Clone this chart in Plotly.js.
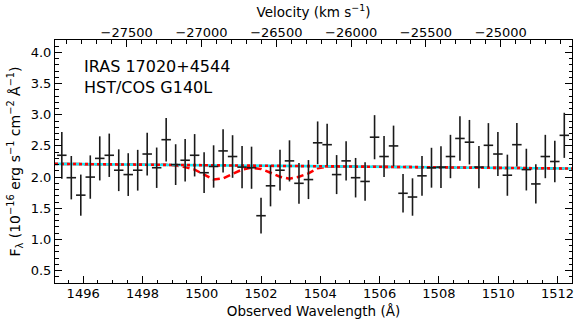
<!DOCTYPE html>
<html>
<head>
<meta charset="utf-8">
<script src="https://cdn.plot.ly/plotly-3.0.1.min.js"></script>
<style>
  html, body { margin: 0; padding: 0; background: #fff; }
  #plot { width: 580px; height: 330px; }
</style>
</head>
<body>
<div id="plot"></div>
<script>
// observed wavelengths of the binned spectrum (Angstrom)
var wave = [1495.28, 1495.60, 1495.92, 1496.24, 1496.56, 1496.88, 1497.20, 1497.52, 1497.84, 1498.16,
  1498.48, 1498.80, 1499.12, 1499.44, 1499.76, 1500.08, 1500.40, 1500.72, 1501.04, 1501.36,
  1501.68, 1502.00, 1502.32, 1502.64, 1502.96, 1503.28, 1503.60, 1503.91, 1504.23, 1504.55,
  1504.87, 1505.19, 1505.51, 1505.83, 1506.15, 1506.47, 1506.79, 1507.11, 1507.43, 1507.75,
  1508.07, 1508.39, 1508.71, 1509.03, 1509.35, 1509.67, 1509.99, 1510.31, 1510.63, 1510.95,
  1511.27, 1511.59, 1511.91, 1512.23];

// flux in 1e-16 erg/s/cm2/A
var flux = [2.35, 1.99, 1.71, 2.00, 2.30, 2.35, 2.11, 2.04, 2.11, 2.37,
  2.15, 2.60, 2.20, 2.27, 2.35, 2.07, 2.17, 2.42, 2.33, 2.16,
  2.15, 1.38, 1.86, 2.11, 2.26, 1.90, 1.96, 2.55, 2.52, 2.04,
  2.26, 1.99, 1.93, 2.64, 2.33, 2.50, 1.74, 1.68, 2.02, 2.15,
  2.16, 2.33, 2.62, 2.56, 2.16, 2.51, 2.37, 2.03, 2.52, 2.12,
  1.89, 2.33, 2.25, 2.67];

var fluxErr = [0.375, 0.348, 0.330, 0.348, 0.354, 0.348, 0.335, 0.343, 0.327, 0.343,
  0.324, 0.349, 0.327, 0.341, 0.340, 0.327, 0.340, 0.348, 0.342, 0.340,
  0.338, 0.287, 0.330, 0.327, 0.330, 0.327, 0.313, 0.343, 0.335, 0.313,
  0.316, 0.317, 0.308, 0.354, 0.330, 0.326, 0.308, 0.300, 0.320, 0.320,
  0.334, 0.348, 0.356, 0.357, 0.340, 0.356, 0.354, 0.330, 0.349, 0.335,
  0.316, 0.348, 0.334, 0.362];

// absorption model evaluated on the same grid
var model = [2.211, 2.210, 2.208, 2.207, 2.205, 2.204, 2.203, 2.201, 2.200, 2.199,
  2.197, 2.196, 2.185, 2.160, 2.120, 2.040, 1.960, 1.980, 2.050, 2.120,
  2.150, 2.130, 2.070, 2.005, 1.975, 2.005, 2.060, 2.140, 2.165, 2.171,
  2.170, 2.168, 2.167, 2.165, 2.164, 2.163, 2.161, 2.160, 2.159, 2.157,
  2.156, 2.154, 2.153, 2.152, 2.150, 2.149, 2.148, 2.146, 2.145, 2.143,
  2.142, 2.141, 2.139, 2.138];

// continuum fit (straight line across the window)
var contWave = [1495.05, 1512.49];
var contFlux = [2.212, 2.137];

var xRange = [1495.05, 1512.49];
var yRange = [0.3, 4.2];
var velRange = [-27979, -24524];

var font = "DejaVu Sans, Verdana, sans-serif";

var spec = {
  x: wave,
  y: flux,
  type: "scatter",
  mode: "markers",
  marker: { size: 1, color: "rgba(0,0,0,0)" },
  error_y: { type: "data", array: fluxErr, visible: true, color: "#1a1a1a", thickness: 1.6, width: 0 },
  error_x: { type: "constant", value: 0.16, visible: true, color: "#1a1a1a", thickness: 1.6, width: 0 },
  showlegend: false,
  hoverinfo: "skip"
};

var modelLine = {
  x: wave,
  y: model,
  type: "scatter",
  mode: "lines",
  line: { color: "#ff0000", width: 2.5, dash: "7px,4px" },
  showlegend: false
};

var contCyan = {
  x: contWave,
  y: contFlux,
  type: "scatter",
  mode: "lines",
  line: { color: "#1ee3f0", width: 2.6 },
  showlegend: false
};

var contRed = {
  x: contWave,
  y: contFlux,
  type: "scatter",
  mode: "lines",
  line: { color: "#ff0000", width: 2.6, dash: "3px,3px" },
  showlegend: false
};

// dummy trace so the velocity axis is drawn
var velTrace = {
  x: velRange,
  y: [null, null],
  xaxis: "x2",
  type: "scatter",
  mode: "lines",
  showlegend: false,
  hoverinfo: "skip"
};

var data = [modelLine, contCyan, contRed, spec, velTrace];

var layout = {
  width: 580,
  height: 330,
  margin: { l: 55, r: 8, t: 40, b: 47 },
  paper_bgcolor: "#fff",
  plot_bgcolor: "#fff",
  font: { family: font, size: 13, color: "#000" },
  showlegend: false,
  xaxis: {
    range: xRange,
    dtick: 2,
    tick0: 0,
    tickformat: "d",
    ticks: "inside",
    ticklen: 7,
    tickwidth: 1,
    tickcolor: "#000",
    minor: { dtick: 0.5, ticks: "inside", ticklen: 3.5, tickwidth: 1, tickcolor: "#000" },
    showline: true,
    linecolor: "#000",
    linewidth: 1,
    showgrid: false,
    zeroline: false,
    tickfont: { size: 13 },
    ticklabelstandoff: -2,
    title: { text: "Observed Wavelength (Å)", font: { size: 13.5 }, standoff: 6 }
  },
  xaxis2: {
    overlaying: "x",
    side: "top",
    anchor: "y",
    range: velRange,
    dtick: 500,
    tick0: 0,
    tickformat: "d",
    ticks: "inside",
    ticklen: 7,
    tickwidth: 1,
    tickcolor: "#000",
    minor: { dtick: 100, ticks: "inside", ticklen: 3.5, tickwidth: 1, tickcolor: "#000" },
    showline: true,
    linecolor: "#000",
    linewidth: 1,
    showgrid: false,
    zeroline: false,
    tickfont: { size: 13 },
    ticklabelstandoff: -3,
    title: { text: "Velocity (km s<sup>−1</sup>)", font: { size: 13.5 }, standoff: 4 }
  },
  yaxis: {
    range: yRange,
    dtick: 0.5,
    tick0: 0,
    tickformat: ".1f",
    ticks: "inside",
    ticklen: 7,
    tickwidth: 1,
    tickcolor: "#000",
    minor: { dtick: 0.1, ticks: "inside", ticklen: 3.5, tickwidth: 1, tickcolor: "#000" },
    showline: true,
    mirror: "ticks",
    linecolor: "#000",
    linewidth: 1,
    showgrid: false,
    zeroline: false,
    tickfont: { size: 13 },
    title: {
      text: "F<sub>λ</sub> (10<sup>−16</sup> erg s<sup>−1</sup> cm<sup>−2</sup> Å<sup>−1</sup>)",
      font: { size: 14 },
      standoff: 6
    }
  },
  annotations: [
    { text: "IRAS 17020+4544", xref: "paper", yref: "paper", x: 0.052, y: 0.893,
      xanchor: "left", yanchor: "middle", showarrow: false, font: { size: 16 } },
    { text: "HST/COS G140L", xref: "paper", yref: "paper", x: 0.052, y: 0.806,
      xanchor: "left", yanchor: "middle", showarrow: false, font: { size: 16 } }
  ]
};

Plotly.newPlot("plot", data, layout, { staticPlot: true, displayModeBar: false });
</script>
</body>
</html>
